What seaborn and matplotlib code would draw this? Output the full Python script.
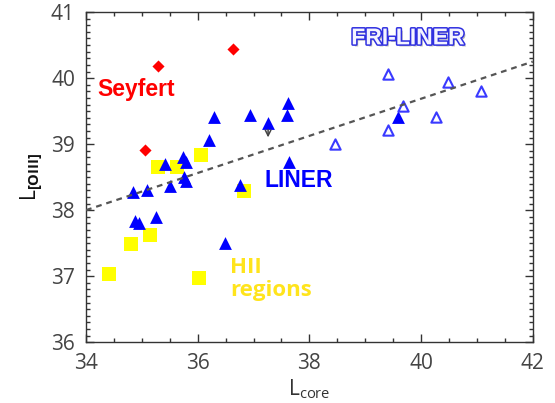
import matplotlib
matplotlib.use("Agg")
import matplotlib.pyplot as plt
import matplotlib.patheffects as pe
from matplotlib.ticker import MultipleLocator
import seaborn as sns

# Seyfert (red diamonds)
sey_x = [35.06, 35.29, 36.64]
sey_y = [38.91, 40.19, 40.44]

# LINER (filled blue triangles)
liner_x = [36.29, 36.94, 37.26, 36.20, 35.74, 35.79, 35.41, 35.76, 35.79, 35.50,
           35.09, 34.84, 34.88, 34.95, 35.26, 36.49, 36.75, 37.62, 37.60, 37.63, 39.58]
liner_y = [39.41, 39.44, 39.32, 39.06, 38.81, 38.73, 38.70, 38.50, 38.44, 38.37,
           38.30, 38.28, 37.84, 37.80, 37.89, 37.50, 38.38, 39.62, 39.44, 38.73, 39.41]

# FRI-LINER (open triangles)
fri_x = [39.41, 40.48, 41.08, 39.68, 40.26, 39.40, 38.45]
fri_y = [40.06, 39.94, 39.81, 39.58, 39.41, 39.21, 39.00]

# HII regions (yellow squares)
hii_x = [35.29, 35.63, 36.06, 36.83, 35.14, 34.81, 34.41, 36.02]
hii_y = [38.65, 38.65, 38.84, 38.29, 37.62, 37.48, 37.03, 36.97]

# upper limit arrow (start, end)
lim_x = 37.26
lim_y = [39.26, 39.06]

# correlation line
fit_x = [34, 42]
fit_y = [38.0, 40.25]

sns.set_style("ticks")
plt.rcParams['font.family'] = ['Open Sans', 'DejaVu Sans']
plt.rcParams['mathtext.fontset'] = 'custom'
plt.rcParams['mathtext.rm'] = 'Open Sans'
plt.rcParams['mathtext.bf'] = 'Open Sans:bold'

fig = plt.figure(figsize=(5.55, 4.03), dpi=100)
ax = fig.add_axes([0.155, 0.151, 0.805, 0.819])

sns.scatterplot(x=hii_x, y=hii_y, marker='s', s=100, color='#ffff00',
                edgecolor='#ffff00', linewidth=0, ax=ax, zorder=2)
sns.scatterplot(x=liner_x, y=liner_y, marker='^', s=85, color='#0000ff',
                edgecolor='#0000ff', linewidth=0, ax=ax, zorder=3)
sns.scatterplot(x=fri_x, y=fri_y, marker='^', s=55, facecolor='white',
                edgecolor='#3a3aff', linewidth=1.5, ax=ax, zorder=3)
sns.scatterplot(x=sey_x, y=sey_y, marker='D', s=38, color='#ff0000',
                edgecolor='#ff0000', linewidth=0, ax=ax, zorder=3)
sns.lineplot(x=fit_x, y=fit_y, color='#555555', lw=1.6, ax=ax, zorder=4)
ax.lines[-1].set_dashes((2.6, 2.2))

ax.annotate('', xy=(lim_x, lim_y[1]), xytext=(lim_x, lim_y[0]),
            arrowprops=dict(arrowstyle='->', color='#444444', lw=1.1,
                            mutation_scale=10))

ax.text(34.21, 39.82, 'Seyfert', color='#ff0000', fontsize=16.5,
        fontweight='bold', family='Liberation Sans', va='center', ha='left')
ax.text(37.20, 38.45, 'LINER', color='#0000ff', fontsize=16.5,
        fontweight='bold', family='Liberation Sans', va='center', ha='left')
ax.text(36.58, 36.96, 'HII\nregions', color='#ffe41c', fontsize=16,
        fontweight='bold', va='center', ha='left', linespacing=1.15)
ax.text(39.76, 40.61, 'FRI-LINER', color='#f4f4ff', fontsize=16.5,
        fontweight='bold', family='Liberation Sans', va='center', ha='center',
        path_effects=[pe.withSimplePatchShadow(offset=(1.5, -1.5), shadow_rgbFace='#888888', alpha=0.6),
                      pe.Stroke(linewidth=2.2, foreground='#3030e0'), pe.Normal()])

ax.set_xlim(34, 42)
ax.set_ylim(36, 41)
ax.xaxis.set_major_locator(MultipleLocator(2))
ax.xaxis.set_minor_locator(MultipleLocator(0.5))
ax.yaxis.set_major_locator(MultipleLocator(1))
ax.yaxis.set_minor_locator(MultipleLocator(0.1))
ax.tick_params(which='both', direction='in', top=True, right=True,
               colors='#333333', labelcolor='#444444', labelsize=15)
ax.tick_params(which='major', length=6, width=1, pad=8)
ax.tick_params(which='minor', length=3, width=1)
for sp in ax.spines.values():
    sp.set_color('#333333')
    sp.set_linewidth(1.0)

ax.set_xlabel(r'L$_{\rm core}$', fontsize=15, color='#333333', labelpad=2)
ax.set_ylabel(r'L$_{\bf [OIII]}$', fontsize=15, color='#111111', labelpad=4)

fig.savefig('out.png', dpi=100)
